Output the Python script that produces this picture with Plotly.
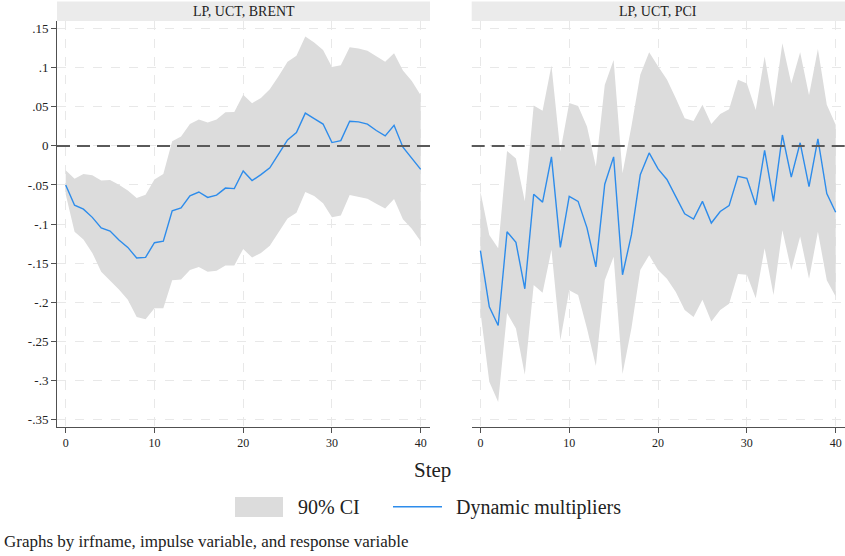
import plotly.graph_objects as go

steps = list(range(41))

# Panel 1: LP, UCT, BRENT
brent_irf = [-0.050, -0.076, -0.081, -0.0915, -0.105, -0.109, -0.1205, -0.130, -0.1436, -0.1427,
             -0.124, -0.122, -0.083, -0.0795, -0.064, -0.059, -0.066, -0.063, -0.054, -0.0547,
             -0.032, -0.0444, -0.0368, -0.028, -0.0103, 0.0077, 0.017, 0.042, 0.035, 0.028,
             0.0043, 0.0068, 0.0316, 0.0308, 0.028, 0.0197, 0.0128, 0.0265, -0.0017, -0.0154, -0.030]
brent_upper = [-0.031, -0.042, -0.036, -0.0376, -0.0444, -0.0436, -0.0496, -0.057, -0.0667, -0.0624,
               -0.043, -0.036, 0.006, 0.012, 0.028, 0.034, 0.030, 0.034, 0.043, 0.0436,
               0.0655, 0.0547, 0.0615, 0.0727, 0.0897, 0.1077, 0.1154, 0.140, 0.1325, 0.123,
               0.101, 0.1034, 0.1265, 0.1248, 0.122, 0.1145, 0.1077, 0.1188, 0.0966, 0.083, 0.065]
brent_lower = [-0.062, -0.110, -0.120, -0.137, -0.161, -0.172, -0.184, -0.197, -0.219, -0.222,
               -0.208, -0.208, -0.172, -0.171, -0.159, -0.155, -0.161, -0.160, -0.153, -0.153,
               -0.132, -0.143, -0.137, -0.128, -0.111, -0.093, -0.0855, -0.059, -0.064, -0.0735,
               -0.0915, -0.089, -0.063, -0.065, -0.0675, -0.074, -0.080, -0.068, -0.094, -0.106, -0.122]

# Panel 2: LP, UCT, PCI
pci_irf = [-0.134, -0.206, -0.230, -0.110, -0.1235, -0.183, -0.062, -0.072, -0.014, -0.130,
           -0.0645, -0.071, -0.105, -0.155, -0.049, -0.014, -0.165, -0.114, -0.037, -0.009,
           -0.0295, -0.043, -0.065, -0.087, -0.0936, -0.071, -0.0987, -0.084, -0.0765, -0.039,
           -0.0415, -0.0756, -0.0056, -0.071, 0.014, -0.040, 0.004, -0.052, 0.009, -0.061, -0.085]
pci_upper = [-0.0585, -0.114, -0.131, -0.0064, -0.016, -0.071, 0.0517, 0.045, 0.103, -0.007,
             0.055, 0.051, 0.025, -0.0265, 0.078, 0.110, -0.035, 0.025, 0.091, 0.120,
             0.102, 0.085, 0.061, 0.0355, 0.032, 0.0526, 0.028, 0.041, 0.047, 0.0846,
             0.080, 0.046, 0.1145, 0.050, 0.1316, 0.080, 0.120, 0.065, 0.124, 0.0526, 0.027]
pci_lower = [-0.212, -0.302, -0.328, -0.214, -0.234, -0.293, -0.178, -0.188, -0.133, -0.249,
             -0.185, -0.191, -0.234, -0.282, -0.172, -0.142, -0.292, -0.234, -0.159, -0.140,
             -0.159, -0.170, -0.187, -0.210, -0.219, -0.197, -0.225, -0.210, -0.202, -0.164,
             -0.165, -0.195, -0.131, -0.191, -0.108, -0.159, -0.116, -0.170, -0.110, -0.172, -0.193]

panel_titles = ["LP, UCT, BRENT", "LP, UCT, PCI"]
ytick_vals = [0.15, 0.1, 0.05, 0, -0.05, -0.1, -0.15, -0.2, -0.25, -0.3, -0.35]
ytick_text = [".15", ".1", ".05", "0", "-.05", "-.1", "-.15", "-.2", "-.25", "-.3", "-.35"]
xtick_vals = [0, 10, 20, 30, 40]

W, H = 845, 556
FONT = "Liberation Serif, Times New Roman, serif"
BAND = "rgb(220,220,220)"
BLUE = "rgb(45,140,235)"
GRID = "rgb(232,232,232)"

def px_x(p):
    return p / W

def px_y(p):
    return 1 - p / H

fig = go.Figure()

panels = [(brent_irf, brent_upper, brent_lower), (pci_irf, pci_upper, pci_lower)]
for i, (irf, up, lo) in enumerate(panels):
    xa = "x" if i == 0 else "x2"
    ya = "y" if i == 0 else "y2"
    fig.add_trace(go.Scatter(x=steps, y=lo, mode="lines", line=dict(width=0, color=BAND),
                             xaxis=xa, yaxis=ya, showlegend=False, hoverinfo="skip"))
    fig.add_trace(go.Scatter(x=steps, y=up, mode="lines", line=dict(width=0, color=BAND),
                             fill="tonexty", fillcolor=BAND, xaxis=xa, yaxis=ya,
                             showlegend=False, name="90% CI"))
    fig.add_trace(go.Scatter(x=steps, y=irf, mode="lines", line=dict(width=1.4, color=BLUE),
                             xaxis=xa, yaxis=ya, showlegend=False, name="Dynamic multipliers"))

xdom1 = [px_x(57), px_x(430)]
xdom2 = [px_x(471.7), 1.0]
ydom = [px_y(427), px_y(21)]

axis_common_x = dict(range=[-0.98, 41.05], tickvals=xtick_vals, ticks="outside", ticklen=5,
                     tickcolor="rgb(80,80,80)", showline=True, linecolor="rgb(80,80,80)", linewidth=1,
                     showgrid=True, gridcolor=GRID, griddash="dash", gridwidth=1, zeroline=False,
                     tickfont=dict(family=FONT, size=12, color="#222"))
axis_common_y = dict(range=[-0.360, 0.160], tickvals=ytick_vals, ticktext=ytick_text,
                     showgrid=True, gridcolor=GRID, griddash="dash", gridwidth=1, zeroline=False,
                     tickfont=dict(family=FONT, size=13, color="#222"))

fig.update_layout(
    width=W, height=H, margin=dict(l=0, r=0, t=0, b=0),
    paper_bgcolor="white", plot_bgcolor="white",
    xaxis=dict(domain=xdom1, anchor="y", **axis_common_x),
    xaxis2=dict(domain=xdom2, anchor="y2", **axis_common_x),
    yaxis=dict(domain=ydom, anchor="x", ticks="outside", ticklen=5, tickcolor="rgb(80,80,80)",
               showline=True, linecolor="rgb(80,80,80)", linewidth=1, **axis_common_y),
    yaxis2=dict(domain=ydom, anchor="x2", showticklabels=False, ticks="", showline=False,
                **axis_common_y),
    showlegend=False,
)

shapes = []
annotations = []
for i, (xd, xr, yr) in enumerate([(xdom1, "x", "y"), (xdom2, "x2", "y2")]):
    # strip header
    shapes.append(dict(type="rect", xref="paper", yref="paper", x0=xd[0], x1=xd[1],
                       y0=px_y(21), y1=px_y(1.5), fillcolor="rgb(235,235,235)", line=dict(width=0),
                       layer="below"))
    annotations.append(dict(text=panel_titles[i], xref="paper", yref="paper",
                            x=(xd[0] + xd[1]) / 2, y=px_y(11.5), showarrow=False,
                            font=dict(family=FONT, size=14, color="#222"), xanchor="center",
                            yanchor="middle"))
    # zero reference line
    shapes.append(dict(type="line", xref=f"{xr} domain", yref=yr, x0=0, x1=1, y0=0, y1=0,
                       line=dict(color="rgb(90,90,90)", width=2, dash="13px,7px"), layer="above"))

# x-axis title
annotations.append(dict(text="Step", xref="paper", yref="paper", x=px_x(432), y=px_y(470),
                        showarrow=False, font=dict(family=FONT, size=21, color="#222"),
                        xanchor="center", yanchor="middle"))
# legend
shapes.append(dict(type="rect", xref="paper", yref="paper", x0=px_x(235), x1=px_x(283),
                   y0=px_y(517), y1=px_y(497), fillcolor=BAND, line=dict(width=0)))
annotations.append(dict(text="90% CI", xref="paper", yref="paper", x=px_x(296), y=px_y(507),
                        showarrow=False, font=dict(family=FONT, size=20, color="#222"),
                        xanchor="left", yanchor="middle"))
shapes.append(dict(type="line", xref="paper", yref="paper", x0=px_x(393), x1=px_x(442),
                   y0=px_y(506.7), y1=px_y(506.7), line=dict(color=BLUE, width=1.5)))
annotations.append(dict(text="Dynamic multipliers", xref="paper", yref="paper", x=px_x(454),
                        y=px_y(507), showarrow=False, font=dict(family=FONT, size=20, color="#222"),
                        xanchor="left", yanchor="middle"))
# note
annotations.append(dict(text="Graphs by irfname, impulse variable, and response variable",
                        xref="paper", yref="paper", x=px_x(2), y=px_y(541), showarrow=False,
                        font=dict(family=FONT, size=17, color="#222"), xanchor="left",
                        yanchor="middle"))

fig.update_layout(shapes=shapes, annotations=annotations)
fig.write_html("out.html")
